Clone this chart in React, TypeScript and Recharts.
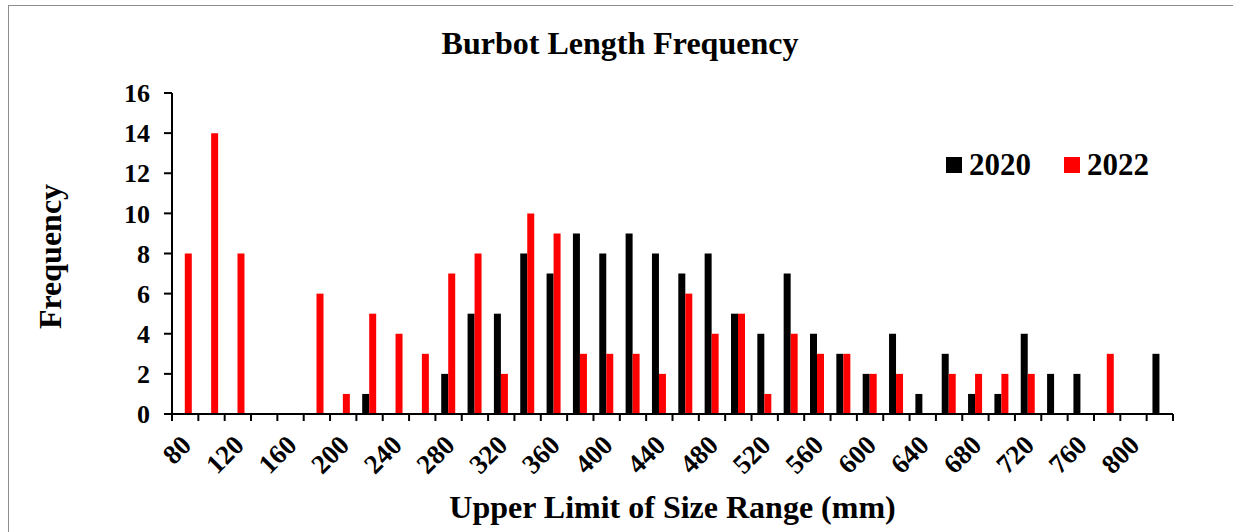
import { BarChart, Bar, XAxis, YAxis, Legend, Label } from "recharts";

const FONT = '"Liberation Serif", "Times New Roman", serif';

// upper limit of each 20 mm size class
const sizeClasses = [
  80, 100, 120, 140, 160, 180, 200, 220, 240, 260, 280, 300, 320, 340, 360, 380, 400, 420, 440,
  460, 480, 500, 520, 540, 560, 580, 600, 620, 640, 660, 680, 700, 720, 740, 760, 780, 800, 820,
];
const count2020 = [
  0, 0, 0, 0, 0, 0, 0, 1, 0, 0, 2, 5, 5, 8, 7, 9, 8, 9, 8,
  7, 8, 5, 4, 7, 4, 3, 2, 4, 1, 3, 1, 1, 4, 2, 2, 0, 0, 3,
];
const count2022 = [
  8, 14, 8, 0, 0, 6, 1, 5, 4, 3, 7, 8, 2, 10, 9, 3, 3, 3, 2,
  6, 4, 5, 1, 4, 3, 3, 2, 2, 0, 2, 2, 2, 2, 0, 0, 3, 0, 0,
];
const yTicks = [0, 2, 4, 6, 8, 10, 12, 14, 16];

const data = sizeClasses.map((s, i) => ({ size: s, y2020: count2020[i], y2022: count2022[i] }));

const W = 1233, H = 532;
const M = { top: 93, right: 60, left: 112, bottom: 0 };
const HALF_BAND = (W - M.left - M.right - 60) / sizeClasses.length / 2;

// tick marks sit on the class boundaries; labels on every other class
const XTick = (props: any) => {
  const { x, y, payload, index } = props;
  const half = payload?.offset || HALF_BAND;
  const last = index === sizeClasses.length - 1;
  const tx = x + 1, ty = y + 26;
  return (
    <g>
      <line x1={x - half} y1={y} x2={x - half} y2={y + 7} stroke="#000" strokeWidth={2} />
      {last && <line x1={x + half} y1={y} x2={x + half} y2={y + 7} stroke="#000" strokeWidth={2} />}
      {index % 2 === 0 && (
        <text x={tx} y={ty} dy="0.35em" textAnchor="end" transform={`rotate(-45, ${tx}, ${ty})`}
          fontFamily={FONT} fontWeight="bold" fontSize={27} fill="#000">
          {payload.value}
        </text>
      )}
    </g>
  );
};

const LegendBox = ({ payload }: any) => (
  <div style={{ display: "flex", gap: 33, fontFamily: FONT, fontWeight: "bold", fontSize: 31, color: "#000" }}>
    {(payload || []).map((p: any) => (
      <div key={p.value} style={{ display: "flex", alignItems: "center" }}>
        <span style={{ width: 16, height: 16, background: p.color, display: "inline-block", marginRight: 7 }} />
        {p.value}
      </div>
    ))}
  </div>
);

export default function App() {
  return (
    <div style={{ position: "relative", width: W, height: H, overflow: "hidden", background: "#fff" }}>
      <style>{"body{margin:0}"}</style>
      <div style={{ position: "absolute", left: 8, top: 5, width: 1224, height: 560, border: "1px solid #8c8c8c" }} />
      <div style={{ position: "absolute", top: 25, left: 0, width: 1240, textAlign: "center",
        fontFamily: FONT, fontWeight: "bold", fontSize: 32, color: "#000" }}>
        Burbot Length Frequency
      </div>
      <div style={{ position: "absolute", left: 0, top: 0 }}>
        <BarChart width={W} height={H} data={data} margin={M} barGap={0} barCategoryGap="22%">
          <XAxis dataKey="size" interval={0} height={118} tickLine={false} tickSize={0} tickMargin={0}
            axisLine={{ stroke: "#000", strokeWidth: 2 }} tick={<XTick />}>
            <Label content={({ viewBox }: any) => (
              <text x={viewBox.x + viewBox.width / 2} y={518} textAnchor="middle"
                fontFamily={FONT} fontWeight="bold" fontSize={32} fill="#000">
                Upper Limit of Size Range (mm)
              </text>
            )} />
          </XAxis>
          <YAxis width={60} domain={[0, 16]} ticks={yTicks} interval={0} tickSize={8} tickMargin={14}
            axisLine={{ stroke: "#000", strokeWidth: 2 }} tickLine={{ stroke: "#000", strokeWidth: 2 }}
            tick={{ fill: "#000", fontSize: 26, fontWeight: "bold", fontFamily: FONT }}>
            <Label content={({ viewBox }: any) => {
              const cx = 50, cy = viewBox.y + viewBox.height / 2 + 3;
              return (
                <text x={cx} y={cy} dy="0.35em" textAnchor="middle" transform={`rotate(-90, ${cx}, ${cy})`}
                  fontFamily={FONT} fontWeight="bold" fontSize={32} fill="#000">
                  Frequency
                </text>
              );
            }} />
          </YAxis>
          <Legend layout="horizontal" verticalAlign="middle" align="center" content={<LegendBox />}
            wrapperStyle={{ top: 147, left: 946, width: 260 }} />
          <Bar dataKey="y2020" name="2020" fill="#000000" isAnimationActive={false} />
          <Bar dataKey="y2022" name="2022" fill="#ff0000" isAnimationActive={false} />
        </BarChart>
      </div>
    </div>
  );
}
